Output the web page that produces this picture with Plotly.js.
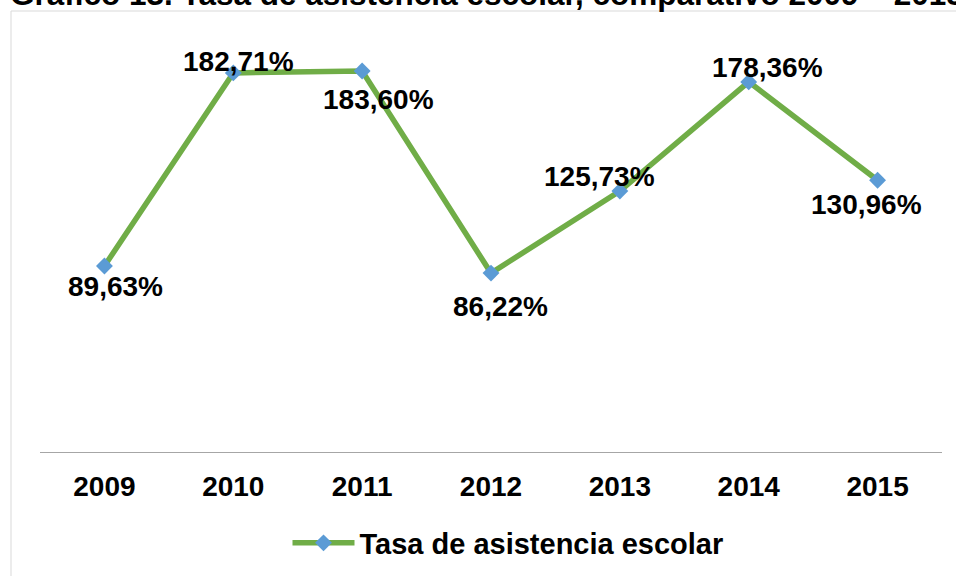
<!DOCTYPE html>
<html>
<head>
<meta charset="utf-8">
<script src="https://cdn.plot.ly/plotly-3.0.1.min.js"></script>
<style>html,body{margin:0;padding:0;background:#fff;}#chart{width:956px;height:576px;}</style>
</head>
<body>
<div id="chart"></div>
<script>
var years = ["2009", "2010", "2011", "2012", "2013", "2014", "2015"];
var rates = [89.63, 182.71, 183.60, 86.22, 125.73, 178.36, 130.96];
var seriesName = "Tasa de asistencia escolar";
var chartTitle = "Gráfico 13. Tasa de asistencia escolar, comparativo 2009 – 2015";

// label offsets (styling only), in pixels
var labelDx = [11, 5, 16, 9, -20, 19, -11];
var labelDy = [-20, 11, -28, -33, 15, 14, -24];

var FONT = "Liberation Sans, Arial, sans-serif";

var trace = {
  x: years,
  y: rates,
  type: "scatter",
  mode: "lines+markers",
  name: seriesName,
  line: {color: "#70AD47", width: 5.5},
  marker: {symbol: "diamond", size: 13, color: "#5B9BD5"},
  hoverinfo: "x+y"
};

var annotations = rates.map(function (v, i) {
  return {
    x: i, y: v, xref: "x", yref: "y",
    text: v.toFixed(2).replace(".", ",") + "%",
    showarrow: false,
    xanchor: "center", yanchor: "middle",
    xshift: labelDx[i], yshift: labelDy[i],
    font: {family: FONT, size: 28, color: "#000", weight: 700}
  };
});

annotations.push({
  xref: "paper", yref: "paper",
  x: (8 - 40) / 902, y: (452 + 6) / 415,
  xanchor: "left", yanchor: "middle",
  text: chartTitle, showarrow: false,
  font: {family: FONT, size: 31.5, color: "#000", weight: 700}
});

var layout = {
  width: 956, height: 576,
  margin: {l: 40, r: 14, t: 37, b: 124, pad: 0, autoexpand: false},
  paper_bgcolor: "#fff", plot_bgcolor: "#fff",
  showlegend: true,
  legend: {
    orientation: "h",
    x: (508 - 40) / 902, xanchor: "center",
    y: (452 - 543) / 415, yanchor: "middle",
    font: {family: FONT, size: 29, color: "#000", weight: 700},
    itemwidth: 62
  },
  xaxis: {
    type: "category",
    range: [-0.5, 6.5],
    showline: true, linecolor: "#a6a6a6", linewidth: 1,
    showgrid: false, zeroline: false,
    ticks: "outside", ticklen: 9, tickcolor: "rgba(0,0,0,0)",
    tickfont: {family: FONT, size: 28, color: "#000", weight: 700}
  },
  yaxis: {
    range: [0, 200],
    showline: false, showgrid: false, zeroline: false,
    showticklabels: false, ticks: ""
  },
  shapes: [{
    type: "rect", xref: "paper", yref: "paper",
    x0: (11 - 40) / 902, x1: (970 - 40) / 902,
    y0: (452 - 590) / 415, y1: (452 - 11) / 415,
    line: {color: "#d9d9d9", width: 1}, fillcolor: "rgba(0,0,0,0)",
    layer: "below"
  }],
  annotations: annotations
};

Plotly.newPlot("chart", [trace], layout, {displayModeBar: false, staticPlot: true});
</script>
</body>
</html>
